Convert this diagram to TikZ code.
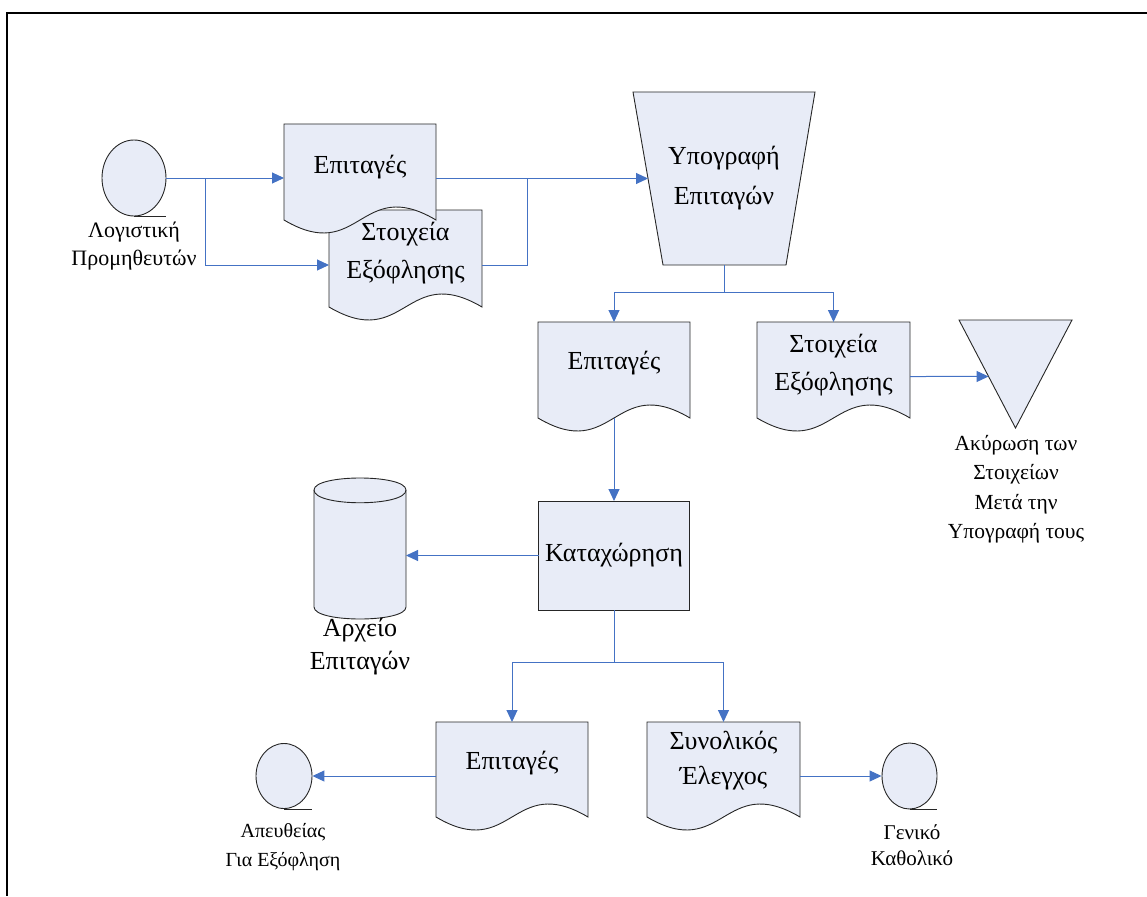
\documentclass[tikz,border=0pt]{standalone}
\usepackage{fontspec}
\setmainfont{Liberation Serif}
\usetikzlibrary{arrows.meta,calc,backgrounds,shapes.geometric}
\definecolor{shapefill}{RGB}{232,236,247}
\definecolor{flowblue}{RGB}{68,114,196}

% document symbol with a wavy lower edge, drawn around an empty node
\newcommand\drawdoc[1]{%
  \draw[shapeline] (#1.north west) -- (#1.north east)
    -- ($(#1.south east)+(0,-13)$)
    .. controls ($(#1.south)+(0,-58)$) and ($(#1.south)+(0,32)$)
    .. ($(#1.south west)+(0,-13)$) -- cycle;}

\begin{document}
\begin{tikzpicture}[x=1pt,y=-1pt,
  bigtext/.style={font=\fontsize{26}{38}\selectfont, align=center, inner sep=0pt},
  cyltext/.style={font=\fontsize{26}{33}\selectfont, align=center, inner sep=0pt},
  smalltext/.style={font=\fontsize{21}{28.5}\selectfont, align=center, inner sep=0pt},
  holder/.style={inner sep=0pt, outer sep=0pt, minimum width=#1},
  shapeline/.style={draw=black!85, line width=0.9pt, fill=shapefill},
  link/.style={draw=flowblue, line width=1pt},
  conn/.style={link, -{Triangle[length=12pt,width=11pt]}},
  storage/.style={ellipse, shapeline, inner sep=0pt}]

\useasboundingbox (0,0) rectangle (1147,896);

% page frame
\draw[line width=2.4pt] (1147,13) -- (7,13) -- (7,896);

% ---------- shapes (empty holders; outlines go on the background layer)
\node[storage, minimum width=64pt, minimum height=76pt] (src) at (134,178) {};
\node[holder=152pt, minimum height=109pt] (dA) at (360,178.5) {};
\node[holder=153pt, minimum height=110pt] (dB) at (405.5,265) {};
\node[holder=182pt, minimum height=173pt] (trap) at (724,178.5) {};
\node[holder=152pt, minimum height=109pt] (dC) at (614,376.5) {};
\node[holder=153pt, minimum height=109pt] (dD) at (833.5,376.5) {};
\node[holder=113pt, minimum height=108pt] (tri) at (1015.5,374) {};
\node[holder=151pt, minimum height=109pt, shapeline] (kat) at (614,555.5) {};
\node[holder=92pt, minimum height=141pt] (cyl) at (360,548.5) {};
\node[holder=152pt, minimum height=108pt] (dE) at (512,776) {};
\node[holder=153pt, minimum height=108pt] (dF) at (723.5,776) {};
\node[storage, minimum width=56pt, minimum height=65pt] (dir) at (284,776) {};
\node[storage, minimum width=55pt, minimum height=66pt] (gl) at (909.5,776) {};

\begin{pgfonlayer}{background}
  \drawdoc{dB}
  \drawdoc{dA}
  \drawdoc{dC}
  \drawdoc{dD}
  \drawdoc{dE}
  \drawdoc{dF}
  \draw[shapeline] (trap.north west) -- (trap.north east)
    -- ($(trap.south east)+(-29,0)$) -- ($(trap.south west)+(30,0)$) -- cycle;
  \draw[shapeline] (tri.north west) -- (tri.north east) -- (tri.south) -- cycle;
  % cylinder
  \coordinate (cyltl) at ($(cyl.north west)+(0,12)$);
  \coordinate (cyltr) at ($(cyl.north east)+(0,12)$);
  \coordinate (cylbl) at ($(cyl.south west)+(0,-12)$);
  \coordinate (cylbr) at ($(cyl.south east)+(0,-12)$);
  \draw[shapeline] (cyltl) -- (cylbl)
    .. controls ($(cylbl)+(0,16)$) and ($(cylbr)+(0,16)$) .. (cylbr)
    -- (cyltr)
    .. controls ($(cyltr)+(0,-16)$) and ($(cyltl)+(0,-16)$) .. (cyltl) -- cycle;
  \draw[draw=black!85, line width=0.9pt] (cyltl)
    .. controls ($(cyltl)+(0,17)$) and ($(cyltr)+(0,17)$) .. (cyltr);
\end{pgfonlayer}

% tails of the storage symbols
\draw[draw=black!85, line width=0.9pt] (src.south) -- (src.south -| src.east);
\draw[draw=black!85, line width=0.9pt] (dir.south) -- (dir.south -| dir.east);
\draw[draw=black!85, line width=0.9pt] (gl.south) -- (gl.south -| gl.east);

% ---------- texts
\node[bigtext] (dAt) at ($(dA.center)+(0,-11)$) {Επιταγές};
\node[bigtext] (dBt) at ($(dB.center)+(0,-12)$) {Στοιχεία\\Εξόφλησης};
\node[bigtext, font=\fontsize{26}{40}\selectfont] (trapt) at (trap.center) {Υπογραφή\\Επιταγών};
\node[bigtext] (dCt) at ($(dC.center)+(0,-13)$) {Επιταγές};
\node[bigtext] (dDt) at ($(dD.center)+(0,-11)$) {Στοιχεία\\Εξόφλησης};
\node[bigtext] (katt) at (kat.center) {Καταχώρηση};
\node[bigtext] (dEt) at ($(dE.center)+(0,-13)$) {Επιταγές};
\node[bigtext, font=\fontsize{26}{35}\selectfont] (dFt) at ($(dF.center)+(0,-15)$) {Συνολικός\\Έλεγχος};
\node[cyltext] (cylt) at (360,646.5) {Αρχείο\\Επιταγών};
\node[smalltext, font=\fontsize{22}{28.5}\selectfont] (srct) at (134,246) {Λογιστική\\Προμηθευτών};
\node[smalltext, font=\fontsize{21.5}{29.5}\selectfont] (trit) at (1016,489) {Ακύρωση των\\Στοιχείων\\Μετά την\\Υπογραφή τους};
\node[smalltext, font=\fontsize{20}{29}\selectfont] (dirt) at (283,847.5) {Απευθείας\\Για Εξόφληση};
\node[smalltext, font=\fontsize{21}{26.5}\selectfont] (glt) at (912,845) {Γενικό\\Καθολικό};

% ---------- connectors
\coordinate (br1) at ($(src.east)+(39,0)$);
\draw[conn] (src.east) -- (src.east -| dA.west);
\draw[conn] (br1) |- (dB.west);

\coordinate (trapin) at ($(trap.north west)!0.5!($(trap.south west)+(30,0)$)$);
\coordinate (mrg) at ($(dA.east)+(91,0)$);
\draw[conn] (dA.east) -- (trapin);
\draw[link] (dB.east) -| (mrg);

\coordinate (split1) at ($(trap.south)+(0,27)$);
\draw[link] (trap.south) -- (split1);
\draw[conn] (split1) -| (dC.north);
\draw[conn] (split1) -| (dD.north);

\coordinate (triin) at ($(tri.north west)!0.523!(tri.south)$);
\draw[conn] (dD.east) -- (triin);

\draw[conn] ($(dC.south)+(0,-13)$) -- (kat.north);
\draw[conn] (kat.west) -- (kat.west -| cyl.east);

\coordinate (split2) at ($(kat.south)+(0,52)$);
\draw[link] (kat.south) -- (split2);
\draw[conn] (split2) -| (dE.north);
\draw[conn] (split2) -| (dF.north);

\draw[conn] (dE.west) -- (dE.west -| dir.east);
\draw[conn] (dF.east) -- (dF.east -| gl.west);
\end{tikzpicture}
\end{document}
